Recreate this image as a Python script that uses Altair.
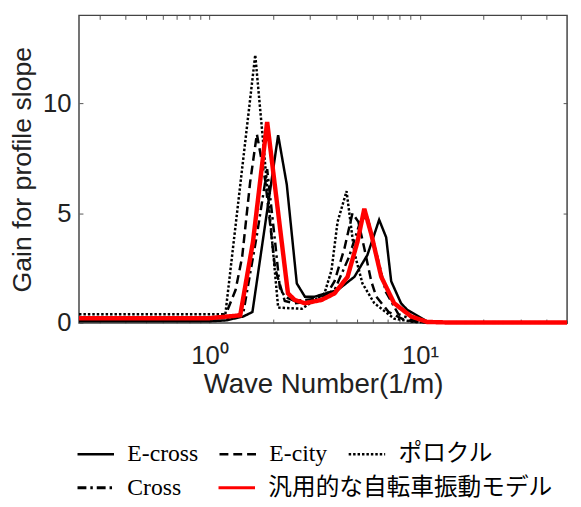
import altair as alt
import pandas as pd

row1_names = ["E-cross", "E-city", "ポロクル"]
row2_names = ["Cross", "汎用的な自転車振動モデル"]
row1_dash = [[1, 0], [9, 5], [2.5, 2]]
row2_dash = [[9, 4, 2.5, 4], [1, 0]]
row1_colors = ["#000000", "#000000", "#000000"]
row2_colors = ["#000000", "#ff0000"]

ecross_x = [0.24, 1.0, 1.2, 1.45, 1.6, 2.12, 2.33, 2.6, 2.84, 3.16, 4.06, 4.88, 5.63, 6.2, 6.4, 6.91, 7.3, 8.13, 8.7, 10.8, 14, 50]
ecross_y = [0.08, 0.08, 0.12, 0.3, 0.5, 8.55, 6.3, 1.8, 1.2, 1.2, 1.5, 2.1, 3.1, 4.3, 4.7, 3.9, 1.9, 0.9, 0.6, 0.08, 0.02, 0.02]

ecity_x = [0.24, 1.0, 1.15, 1.22, 1.33, 1.43, 1.56, 1.68, 1.84, 2.05, 2.28, 2.54, 3.16, 3.6, 3.93, 4.38, 4.78, 5.1, 5.44, 5.87, 6.2, 7.1, 8.4, 9.9, 14, 50]
ecity_y = [0.25, 0.25, 0.3, 0.6, 1.5, 3.0, 6.4, 8.6, 6.5, 2.5, 1.0, 0.9, 1.0, 1.3, 1.9, 3.4, 5.0, 4.6, 3.4, 1.9, 1.2, 0.5, 0.15, 0.03, 0.02, 0.02]

poro_x = [0.24, 1.19, 1.65, 2.12, 2.75, 3.52, 3.80, 4.06, 4.48, 4.88, 5.33, 6.07, 7.54, 9.37, 14, 50]
poro_y = [0.4, 0.4, 12.2, 0.7, 0.65, 1.35, 2.4, 4.6, 6.0, 3.2, 1.8, 0.9, 0.2, 0.05, 0.02, 0.02]

cross_x = [0.24, 1.0, 1.3, 1.45, 1.68, 1.88, 2.05, 2.16, 2.28, 2.54, 3.16, 3.93, 4.6, 5.2, 5.6, 6.2, 6.9, 7.9, 9.9, 14, 50]
cross_y = [0.2, 0.2, 0.25, 0.5, 4.0, 7.0, 3.7, 1.6, 1.2, 1.0, 1.1, 1.5, 3.0, 4.6, 4.9, 3.2, 1.4, 0.4, 0.05, 0.02, 0.02]

model_x = [0.24, 1.0, 1.40, 1.61, 1.88, 2.36, 2.54, 2.84, 3.41, 3.93, 4.53, 5.05, 5.44, 5.87, 6.55, 7.54, 9.07, 10.8, 14, 50]
model_y = [0.22, 0.22, 0.35, 3.7, 9.15, 1.35, 1.05, 0.9, 1.05, 1.35, 2.1, 3.7, 5.2, 4.05, 2.1, 0.9, 0.3, 0.05, 0.02, 0.02]

x_tick_values = [0.3, 0.4, 0.5, 0.6, 0.7, 0.8, 0.9, 1, 2, 3, 4, 5, 6, 7, 8, 9, 10, 20, 30, 40]
y_tick_values = [0, 5, 10]


def make_df(names, xs_list, ys_list):
    rows = []
    for name, xs, ys in zip(names, xs_list, ys_list):
        for i, (xv, yv) in enumerate(zip(xs, ys)):
            rows.append({"series": name, "k": xv, "gain": yv, "idx": i})
    return pd.DataFrame(rows)


df_a = make_df(row1_names, [ecross_x, ecity_x, poro_x], [ecross_y, ecity_y, poro_y])
df_cross = make_df(row2_names[:1], [cross_x], [cross_y])
df_model = make_df(row2_names[1:], [model_x], [model_y])

SANS = "Liberation Sans"
LEGEND_FONT = "Liberation Serif, Noto Sans CJK JP"


def legend(y, col_pad, stroke_w):
    return alt.Legend(
        title=None,
        orient="none",
        legendX=-3,
        legendY=y,
        direction="horizontal",
        padding=0,
        columnPadding=col_pad,
        symbolType="stroke",
        symbolSize=1369,
        symbolStrokeWidth=stroke_w,
        labelOffset=12,
        labelFont=LEGEND_FONT,
        labelFontSize=24,
        labelColor="#000000",
        labelLimit=400,
    )


xscale = alt.Scale(type="log", domain=[0.24, 50])
yscale = alt.Scale(domain=[0, 14])

# Row-1 series: main axes (bottom / left) with inward ticks
leg_a = legend(425, 16, 2.5)
layer_a = alt.Chart(df_a).mark_line(strokeWidth=2.5).encode(
    x=alt.X(
        "k:Q",
        scale=xscale,
        axis=alt.Axis(
            orient="bottom",
            values=x_tick_values,
            labelExpr="datum.value == 1 ? '10⁰' : (datum.value == 10 ? '10¹' : '')",
            labelOverlap=False,
            tickSize=4,
            offset=-4,
            domain=False,
            grid=False,
            tickColor="#555555",
            labelFont=SANS,
            labelFontSize=26,
            labelColor="#222222",
            labelPadding=20,
            title="Wave Number(1/m)",
            titleFont=SANS,
            titleFontSize=28,
            titleFontWeight="normal",
            titleColor="#222222",
            titlePadding=2,
        ),
    ),
    y=alt.Y(
        "gain:Q",
        scale=yscale,
        axis=alt.Axis(
            orient="left",
            values=y_tick_values,
            tickSize=4,
            offset=-4,
            domain=False,
            grid=False,
            tickColor="#555555",
            labelFont=SANS,
            labelFontSize=26,
            labelColor="#222222",
            labelPadding=8,
            title="Gain for profile slope",
            titleFont=SANS,
            titleFontSize=27,
            titleFontWeight="normal",
            titleColor="#222222",
            titlePadding=6,
        ),
    ),
    color=alt.Color("series:N", scale=alt.Scale(domain=row1_names, range=row1_colors), legend=leg_a),
    strokeDash=alt.StrokeDash("series:N", scale=alt.Scale(domain=row1_names, range=row1_dash), legend=leg_a),
    order=alt.Order("idx:Q"),
)

# Row-2 series: top / right tick-only axes
leg_b = legend(459, 31, 3)
top_x = alt.X(
    "k:Q",
    scale=xscale,
    axis=alt.Axis(
        orient="top",
        values=x_tick_values,
        labels=False,
        tickSize=4,
        offset=-4,
        domain=False,
        grid=False,
        tickColor="#555555",
        title=None,
    ),
)
right_y = alt.Y(
    "gain:Q",
    scale=yscale,
    axis=alt.Axis(
        orient="right",
        values=y_tick_values,
        labels=False,
        tickSize=4,
        offset=-4,
        domain=False,
        grid=False,
        tickColor="#555555",
        title=None,
    ),
)
color_b = alt.Color("series:N", scale=alt.Scale(domain=row2_names, range=row2_colors), legend=leg_b)
dash_b = alt.StrokeDash("series:N", scale=alt.Scale(domain=row2_names, range=row2_dash), legend=leg_b)

layer_cross = alt.Chart(df_cross).mark_line(strokeWidth=2.5).encode(
    x=top_x, y=right_y, color=color_b, strokeDash=dash_b, order=alt.Order("idx:Q")
)
layer_model = alt.Chart(df_model).mark_line(strokeWidth=4.5).encode(
    x=top_x, y=right_y, color=color_b, strokeDash=dash_b, order=alt.Order("idx:Q")
)
layer_b = alt.layer(layer_cross, layer_model)

chart = (
    alt.layer(layer_a, layer_b)
    .resolve_scale(color="independent", strokeDash="independent")
    .resolve_axis(x="independent", y="independent")
    .properties(
        width=495,
        height=312,
        padding={"left": 72, "top": 4, "right": 6, "bottom": 175},
        autosize=alt.AutoSizeParams(type="none"),
    )
    .configure_view(stroke="#444444", strokeWidth=1.5)
)

chart.save("out.html", embed_options={"renderer": "svg", "actions": False})
